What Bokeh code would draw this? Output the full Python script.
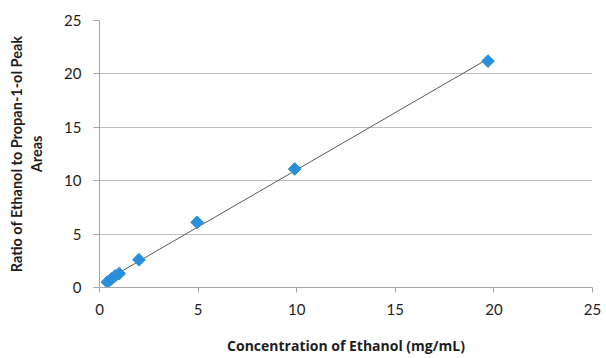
import numpy as np
from bokeh.plotting import figure
from bokeh.models import Range1d, FixedTicker
from bokeh.embed import file_html
from bokeh.resources import INLINE

# Data
conc = [0.4, 0.6, 0.8, 1.0, 2.0, 4.95, 9.9, 19.7]
ratio = [0.5, 0.8, 1.1, 1.3, 2.6, 6.1, 11.1, 21.2]
ticks = [0, 5, 10, 15, 20, 25]

# Linear trendline (least squares) over the data range
slope, intercept = np.polyfit(conc, ratio, 1)
tx = [min(conc), max(conc)]
ty = [slope * v + intercept for v in tx]

FONT = "Lato"

p = figure(width=606, height=358, output_backend="svg", toolbar_location=None,
           x_range=Range1d(0, 25), y_range=Range1d(0, 25),
           min_border_left=99, min_border_right=14, min_border_top=20, min_border_bottom=71)
p.outline_line_color = None

p.line(tx, ty, line_color="#5a5a5a", line_width=1)
p.scatter(conc, ratio, marker="square", angle=np.pi / 4, size=9,
          fill_color="#2a8fd8", line_color="#2a8fd8")

for ax in (p.xaxis[0], p.yaxis[0]):
    ax.ticker = FixedTicker(ticks=ticks)
    ax.minor_tick_line_color = None
    ax.axis_line_color = "#a6a6a6"
    ax.major_tick_line_color = "#a6a6a6"
    ax.major_label_text_font = FONT
    ax.major_label_text_font_size = "15px"
    ax.major_label_text_color = "#1e1e1e"
    ax.axis_label_text_font_style = "bold"
    ax.axis_label_text_color = "#1e1e1e"

p.xaxis.axis_label = "Concentration of Ethanol (mg/mL)"
p.xaxis.axis_label_text_font = "Open Sans"
p.xaxis.axis_label_text_font_size = "14px"
p.yaxis.axis_label = "Ratio of Ethanol to Propan-1-ol Peak\nAreas"
p.yaxis.axis_label_text_font = FONT
p.yaxis.axis_label_text_font_size = "14.5px"

p.xaxis.major_tick_in = 0
p.xaxis.major_tick_out = 5
p.xaxis.major_label_standoff = 11
p.xaxis.axis_label_standoff = 18
p.yaxis.major_tick_in = 0
p.yaxis.major_tick_out = 6
p.yaxis.major_label_standoff = 12
p.yaxis.axis_label_standoff = 16

p.xgrid.grid_line_color = None
p.ygrid.grid_line_color = "#bdbdbd"
p.ygrid.grid_line_width = 1

open("out.html", "w").write(file_html(p, INLINE))
